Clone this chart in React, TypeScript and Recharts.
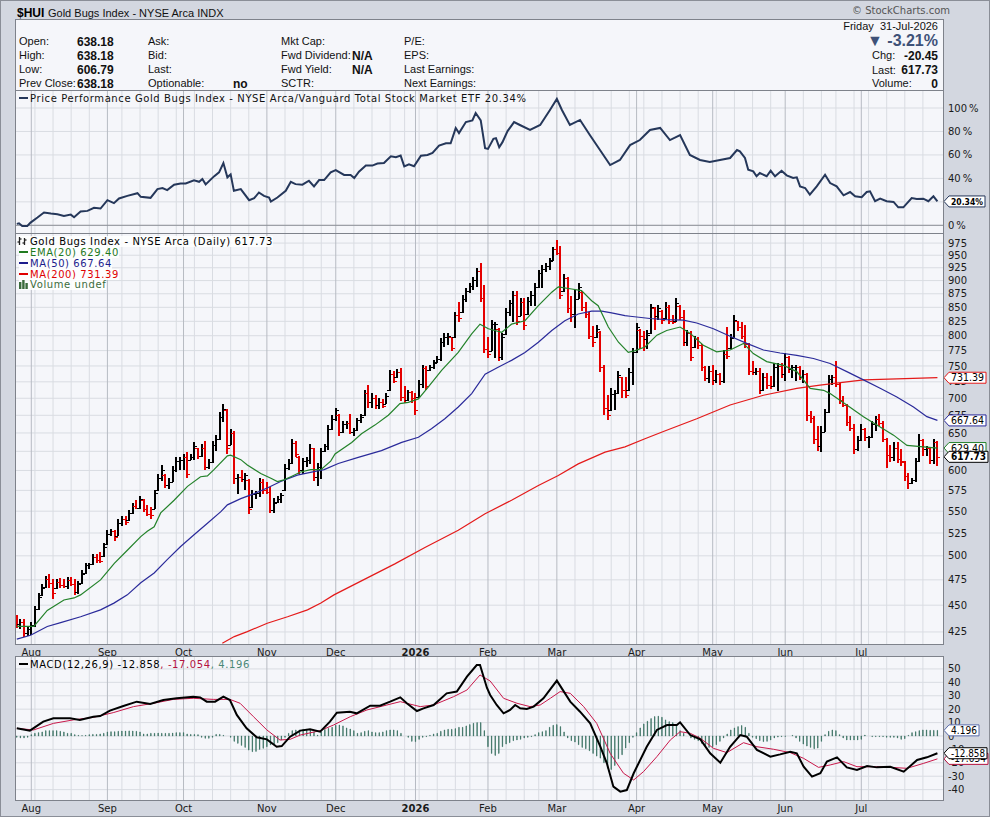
import React from "react";
import {
  Bar,
  CartesianGrid,
  ComposedChart,
  Line,
  ReferenceLine,
  XAxis,
  YAxis,
} from "recharts";

const FONT = "'DejaVu Sans', Verdana, sans-serif";
const HEAD_FONT = "'Liberation Sans', Arial, sans-serif";

// trading-day index 0 = 28 Jul 2025, 254 = 31 Jul 2026
const monthStarts = [4, 25, 46, 69, 88, 110, 130, 149, 171, 192, 212, 233];
const monthNames = ["Aug", "Sep", "Oct", "Nov", "Dec", "2026", "Feb", "Mar", "Apr", "May", "Jun", "Jul"];
const weekStarts = [
  5, 10, 15, 20, 29, 34, 39, 44, 49, 54, 59, 64, 74, 79, 84, 93, 98, 103, 107, 111, 116, 121, 125,
  135, 140, 144, 154, 159, 164, 169, 173, 178, 183, 188, 193, 198, 203, 208, 217, 222, 226, 231,
  235, 240, 245, 250,
];

const highs = [
  440, 436, 436, 430, 433, 448, 461, 470, 478, 480,
  475, 475, 476, 475, 477, 477, 475, 473, 484, 492,
  492, 501, 501, 503, 513, 527, 529, 527, 540, 543,
  544, 551, 559, 562, 567, 563, 556, 554, 575, 594,
  606, 594, 590, 605, 616, 617, 620, 623, 620, 636,
  629, 634, 638, 614, 638, 646, 678, 690, 683, 654,
  652, 594, 600, 596, 588, 575, 573, 590, 588, 584,
  578, 565, 567, 571, 607, 614, 641, 638, 618, 615,
  617, 634, 629, 609, 629, 634, 660, 674, 685, 675,
  665, 665, 675, 656, 670, 675, 712, 719, 707, 704,
  699, 697, 707, 743, 740, 744, 746, 717, 712, 709,
  707, 727, 751, 749, 751, 759, 764, 795, 803, 803,
  797, 841, 859, 872, 884, 893, 906, 923, 933, 890,
  797, 826, 823, 812, 803, 847, 862, 879, 878, 865,
  865, 868, 878, 893, 919, 928, 932, 942, 965, 980,
  967, 912, 906, 870, 881, 893, 878, 859, 841, 815,
  818, 806, 751, 704, 714, 712, 740, 732, 732, 745,
  778, 821, 810, 806, 809, 855, 849, 852, 843, 858,
  852, 834, 865, 852, 843, 809, 806, 799, 796, 784,
  749, 749, 751, 743, 738, 775, 813, 801, 834, 825,
  822, 817, 786, 757, 745, 745, 738, 738, 733, 754,
  754, 754, 770, 765, 751, 751, 749, 743, 738, 680,
  673, 659, 659, 683, 735, 735, 757, 722, 702, 690,
  673, 661, 645, 661, 656, 645, 666, 673, 675, 665,
  642, 633, 636, 636, 627, 611, 596, 590, 615, 648,
  640, 631, 629, 640, 638.18,
];

const lows = [
  429, 428, 421, 422, 423, 430, 446, 460, 468, 468,
  457, 467, 468, 468, 467, 470, 461, 462, 472, 482,
  487, 491, 493, 493, 500, 513, 522, 517, 522, 534,
  535, 540, 548, 553, 553, 550, 545, 542, 553, 575,
  588, 579, 578, 586, 599, 601, 601, 592, 614, 614,
  616, 618, 601, 603, 611, 627, 642, 666, 622, 634,
  584, 571, 586, 576, 548, 555, 565, 568, 571, 571,
  549, 549, 561, 561, 575, 601, 609, 618, 596, 596,
  606, 609, 588, 582, 590, 625, 628, 655, 668, 647,
  651, 656, 649, 647, 654, 665, 675, 687, 687, 685,
  685, 687, 692, 712, 725, 732, 697, 694, 697, 694,
  677, 702, 717, 714, 743, 746, 756, 759, 783, 786,
  775, 797, 826, 841, 862, 878, 884, 890, 862, 772,
  764, 775, 764, 759, 761, 803, 835, 826, 820, 835,
  812, 838, 853, 853, 887, 887, 919, 923, 940, 952,
  866, 880, 841, 826, 815, 866, 844, 832, 795, 783,
  797, 742, 677, 670, 682, 684, 707, 702, 702, 712,
  722, 773, 779, 776, 779, 804, 812, 828, 822, 831,
  822, 822, 826, 829, 784, 784, 759, 781, 779, 744,
  727, 725, 722, 725, 722, 725, 762, 779, 797, 810,
  795, 781, 737, 737, 737, 707, 712, 715, 715, 718,
  712, 732, 727, 740, 732, 727, 729, 724, 668, 665,
  636, 627, 625, 652, 680, 722, 718, 692, 688, 661,
  654, 622, 627, 640, 640, 631, 644, 654, 661, 638,
  604, 612, 613, 611, 607, 588, 578, 584, 586, 612,
  620, 620, 609, 610, 606.79,
];

const closes = [
  432, 434, 424, 428, 431, 446, 458, 467, 476, 472,
  462, 473, 470, 469, 475, 471, 463, 471, 481, 490,
  491, 499, 496, 495, 510, 524, 527, 520, 536, 541,
  537, 548, 556, 554, 564, 553, 547, 545, 572, 590,
  601, 582, 586, 601, 612, 614, 617, 595, 618, 632,
  619, 630, 605, 611, 634, 641, 672, 684, 630, 650,
  590, 592, 589, 594, 553, 570, 572, 585, 576, 573,
  551, 560, 564, 569, 603, 610, 636, 622, 600, 612,
  614, 630, 592, 604, 625, 632, 655, 670, 682, 652,
  662, 664, 652, 654, 668, 673, 708, 695, 700, 690,
  694, 689, 703, 738, 727, 740, 702, 697, 709, 700,
  682, 722, 746, 718, 748, 755, 762, 790, 798, 800,
  780, 836, 830, 866, 880, 890, 902, 918, 868, 778,
  770, 820, 821, 764, 798, 842, 858, 872, 826, 860,
  818, 862, 872, 888, 914, 922, 928, 938, 962, 955,
  872, 905, 848, 838, 866, 888, 850, 838, 800, 790,
  812, 748, 685, 675, 706, 708, 735, 712, 705, 740,
  772, 815, 800, 795, 802, 850, 835, 848, 828, 850,
  826, 824, 858, 832, 790, 805, 765, 794, 784, 748,
  731, 742, 728, 738, 726, 770, 766, 796, 828, 815,
  800, 788, 742, 740, 742, 712, 733, 720, 718, 748,
  750, 738, 765, 745, 748, 749, 733, 738, 675, 671,
  642, 632, 652, 680, 730, 733, 722, 698, 690, 665,
  657, 628, 640, 656, 644, 644, 663, 670, 664, 642,
  620, 618, 630, 615, 612, 593, 584, 588, 612, 640,
  628, 629, 614, 638.18, 617.73,
];

// [trading-day index, value]
const ema20: [number, number][] = [
  [0, 430], [4.7, 430], [8.4, 445], [13, 455], [15.8, 457], [17.6, 460], [23.1, 475], [26.9, 492],
  [30.5, 506], [34.2, 521], [36, 527], [37.9, 532], [39.7, 548], [43.4, 563], [47.1, 580], [50.7, 592],
  [52.6, 593], [54.4, 601], [58.1, 619], [59, 620], [61.8, 614], [63.6, 607], [67.3, 596], [70.1, 590],
  [71.9, 586], [73.7, 588], [75.6, 592], [78.3, 598], [81.1, 601], [83.9, 601], [86.6, 612], [87.8, 621.6],
  [92.4, 637], [95.1, 649], [98.8, 661], [102.5, 675], [105.7, 692], [108, 694], [110.8, 699], [113.5, 717],
  [117.2, 743], [121.8, 772], [125.5, 803], [127.8, 820], [130.1, 812], [133.8, 806], [136.5, 820],
  [140.2, 826], [143.9, 853], [147.6, 878], [149.4, 888], [153.1, 884], [155.8, 881], [158.6, 862],
  [160.4, 853], [163.2, 815], [166, 789], [168.7, 772], [170.6, 775], [173.3, 781], [176.6, 801],
  [179.3, 809], [183, 815], [185.8, 804], [189.4, 784], [193.1, 773], [196.8, 776], [200.5, 787],
  [203.2, 770], [206.9, 757], [211.5, 751], [215.2, 741], [218.9, 715], [222.6, 712], [224.4, 707],
  [229, 690], [233.6, 673], [237.3, 661], [241.9, 647], [245.6, 633], [250.2, 631], [254, 629.4],
];

const ma50: [number, number][] = [
  [0, 418.5], [3.8, 422], [8.4, 430], [12.1, 433.5], [17.6, 439], [23.1, 445.5], [26.8, 452], [30.5, 460],
  [34.2, 472], [37.9, 482], [41.5, 496], [45.2, 510], [48.9, 523], [52.6, 536], [56.3, 549.5], [58.1, 557.5],
  [61.8, 565], [65.5, 571], [69.1, 578], [72.8, 586], [77.4, 594], [82, 598.5], [84.8, 601], [88.7, 609],
  [94.2, 617], [100.6, 626], [106.2, 637], [110.8, 644], [114.4, 656], [118.1, 670], [121.8, 687],
  [125.5, 707], [129.2, 737], [132.8, 748], [136.5, 759], [140.2, 772], [143.9, 789], [147.6, 809],
  [151.2, 826], [154.9, 838], [158.6, 843], [161.4, 843], [164.1, 840], [167.8, 835], [169.2, 834],
  [174.7, 830], [179.3, 828], [183.9, 827], [187.6, 822], [192.2, 812], [196.8, 799], [201.4, 787],
  [206, 776], [210.6, 771], [215.2, 767], [219.8, 762], [224.4, 754], [229, 741], [233.6, 728],
  [238.2, 715], [242.8, 702], [247.4, 687], [251.1, 673], [254, 667.64],
];

const ma200: [number, number][] = [
  [56.7, 414.8], [60, 420.8], [63.6, 425.3], [69.1, 433], [74.7, 439], [80.2, 445.5], [83.9, 452],
  [87.5, 460], [104.3, 491.5], [112.6, 509], [121.8, 528], [129.2, 547], [136.5, 563], [143.9, 581],
  [149.4, 593.5], [154.9, 608.5], [162.3, 624], [167.8, 631], [173.3, 642], [178.4, 652], [187.6, 670],
  [196.8, 690], [206, 704.5], [215.2, 715], [221.6, 720], [229, 725], [233.6, 728], [242.8, 729.5],
  [254, 731.39],
];

const perf: [number, number][] = [
  [0, 1.2], [0.6, 1.7], [1.5, -0.6], [2.9, -0.6], [3.8, 2.3], [5.7, 6.6], [7.5, 10.9], [9.4, 10],
  [11.2, 9.4], [13, 8], [14.9, 9.1], [15.8, 6.9], [17.6, 11.7], [19.5, 12.3], [21.3, 14.9], [23.1, 14.3],
  [25, 21.4], [26.8, 18.9], [28.2, 22.9], [30.5, 25.1], [33.3, 27.4], [34.2, 24.3], [36.9, 23.4],
  [38.8, 30.9], [40.2, 31.7], [41.5, 30], [43.4, 34.6], [45.2, 35.7], [46.6, 35.7], [48.9, 38.3],
  [50.3, 37.1], [51.2, 39.4], [52.1, 34.9], [54.4, 41.7], [55.8, 45.1], [57, 53.1], [58.1, 40.9],
  [59, 43.4], [59.9, 29.4], [61.8, 30.9], [64.1, 21.4], [65.5, 23.1], [66.8, 28], [68.2, 25.1],
  [69.6, 23.7], [70.1, 20.3], [71.9, 23.7], [74.2, 29.4], [75.6, 37.1], [76.9, 35.1], [78.8, 34.6],
  [80.6, 38], [82, 33.1], [83.4, 38.6], [84.8, 38.6], [86.6, 45.1], [88, 47.1], [90.3, 42.9],
  [92.1, 42.9], [93.1, 40.3], [94.4, 45.7], [96.3, 50.9], [98.1, 50.9], [99.5, 52.6], [101.3, 53.1],
  [103.2, 58.9], [104.6, 58], [105.9, 59.4], [106.9, 50.3], [108.2, 52], [109.6, 50.3], [111.5, 59.4],
  [113.3, 60], [114.7, 61.7], [116.5, 68], [118.4, 70], [119.7, 70], [121.1, 82.9], [122, 78.6],
  [123.9, 88], [125.7, 89.4], [126.6, 95.7], [128, 89.4], [129.2, 65.7], [130, 65.1], [131.5, 73.7],
  [132.2, 74.3], [133.1, 66.6], [134, 70.9], [135.4, 80.3], [137.2, 88], [138.8, 85.5], [141.6, 81.3],
  [144.4, 85.5], [147.1, 98.3], [149, 107.7], [150.4, 98.3], [152.6, 85.5], [155.4, 89.8], [158.1, 77],
  [160.9, 64.2], [163.7, 51.4], [166.4, 55.7], [169.2, 68.4], [171.9, 72.7], [174.7, 81.3], [177.5, 83],
  [180.2, 72.7], [183, 77], [185.7, 60], [188.5, 55.7], [191.2, 54], [194, 55.7], [196.8, 57.4],
  [198.7, 64.2], [199.5, 63.1], [200.9, 57.4], [201.8, 47.4], [203.2, 46], [204.1, 41.8], [205, 44.6],
  [206.9, 41.8], [208, 46.5], [209.2, 41.8], [211, 46.5], [212.4, 42.6], [214.2, 40.3], [215.2, 40.9],
  [216.1, 33.2], [217.5, 31.8], [218.8, 26.1], [220.7, 33.2], [223, 43.1], [224.4, 36], [226.2, 33.2],
  [228.1, 25.6], [229.9, 28.4], [231.3, 24.7], [233.1, 23.9], [234.5, 28.4], [235.4, 29], [236.8, 20.5],
  [238.2, 22.7], [240, 20.5], [241.9, 19.9], [243.2, 15.3], [244.6, 15.3], [246.9, 23.3], [248.3, 22.4],
  [250.1, 22.7], [251.5, 20.5], [252.9, 24.7], [254, 20.34],
];

const macd: [number, number][] = [
  [0, 5.7], [3.6, 4], [7.3, 10.7], [10.1, 13.2], [14.7, 13.2], [17.4, 12], [21.1, 14.4], [23, 14.9],
  [25.7, 18.9], [29.4, 22.4], [33.1, 25.6], [36.8, 23.9], [40.4, 26.8], [44.1, 28.1], [48.7, 29.3],
  [50.6, 28.8], [52.4, 25.6], [54.7, 25.6], [57, 29.3], [58.8, 26.8], [60.7, 15.7], [63.4, 5.7],
  [66.2, -1], [69, -2.5], [71.7, -8], [73.1, -7.5], [75.4, -0.5], [78.2, 4], [80.9, 5], [83.7, 3.2],
  [86.4, 10.7], [88.3, 17.4], [91.9, 18.1], [93.8, 16.9], [97.5, 22.6], [100.2, 22.6], [103, 25.6],
  [105.8, 28.8], [107.6, 24.4], [110.4, 18.6], [112.2, 20.6], [115, 23.1], [118.6, 31.8], [121.4, 33.1],
  [124.2, 44.2], [126.9, 52.9], [127.8, 52.9], [129.7, 36], [130.6, 30.6], [132.4, 23.1], [134.3, 16.9],
  [136.1, 19.4], [137.5, 23.1], [138.9, 20.6], [140.7, 20.1], [142.6, 21.9], [145.3, 28.1], [149, 41.3],
  [152.7, 25.6], [155.4, 18.1], [158.2, 9.4], [161, -8], [162.8, -20.4], [164.6, -37.8], [166.5, -41.5],
  [168.3, -40.3], [170.2, -27.8], [173.8, -8], [176.6, 4.5], [179.4, 8.2], [182.1, 8.2], [183, 10.2],
  [185.8, 0.7], [188.6, -2.5], [191.3, -12.9], [194.1, -19.9], [196.8, -8], [199.6, 0.7], [201.4, -0.5],
  [204.2, -10.4], [207.9, -15.4], [210.6, -13.7], [213.4, -11.7], [215.2, -12.9], [217.1, -22.9],
  [219.4, -30.3], [221.7, -27.8], [223.5, -19.1], [226.3, -15.9], [229, -23.4], [231.8, -25.4],
  [234.6, -22.4], [237.3, -23.4], [241, -22.9], [244.7, -26.6], [248.4, -17.9], [251.1, -15.9],
  [254, -12.858],
];

const signal: [number, number][] = [
  [0, 5.7], [4.6, 4.5], [10.1, 9.4], [15.6, 12], [21.1, 13.9], [26.6, 17.4], [32.2, 21.9], [37.7, 24.4],
  [43.2, 27.3], [48.7, 28.1], [54.2, 27.3], [58.8, 27.3], [61.6, 24.4], [65.3, 14.4], [69, 4.5],
  [72.6, -3], [75.4, -2.5], [78.2, 0.7], [83.7, 4], [87.4, 8.2], [92, 14.4], [96.6, 19.4], [102.1, 23.1],
  [105.8, 25.6], [111.3, 21.9], [115, 23.1], [120.5, 29.3], [124.2, 34.3], [127.8, 45.5], [130.6, 41],
  [134.3, 28.1], [138, 24.4], [141.6, 21.9], [144.4, 23.1], [147.2, 28.1], [149.9, 33.1], [152.7, 31.8],
  [156.4, 21.9], [160, 9.4], [163.7, -12.9], [167.4, -27.8], [170.2, -32.8], [172.9, -26.6],
  [176.6, -15.4], [180.3, -3], [183, 3.2], [185.8, 2], [188.6, -1.7], [192.2, -9.2], [195.9, -12.4],
  [200.5, -5], [204.2, -8], [208.8, -9.9], [213.4, -12.4], [217.1, -16.7], [221.2, -23.4],
  [224.4, -21.6], [228.1, -19.1], [231.8, -22.9], [237.3, -22.9], [241, -23.4], [245.6, -24.1],
  [250.2, -20.4], [254, -17.054],
];

const histogram = [
  -1, -1.5, -1.5, -1, 1, 2, 2.5, 3, 4, 4,
  4, 4, 3.5, 3, 2, 2, 1, 0.5, 0.3, 0.5,
  1, 1.2, 1.2, 1.5, 2, 3, 3.2, 3.2, 3.5, 3.7,
  3.7, 3.8, 3.7, 3.5, 3, 1.5, 1.5, 2, 2, 2.2,
  2, 2, 2, 2.2, 2.5, 2.5, 2.5, 1.5, 1.2, 1.2,
  1, -1, -1.7, -1.7, -1, 1.2, 1.2, 0.5, 0, -1,
  -4, -5.5, -7, -8.5, -10.5, -11.7, -11.5, -10, -9.2, -8,
  -6.7, -6, -5, -3, -1, 2, 4, 4.5, 4.5, 5,
  5, 4.5, 3, 0.7, 3, 5, 5.7, 6.5, 8, 8.2,
  7.5, 6, 5.2, 4, 2, 2.5, 3.5, 4, 3, 2.5,
  2.5, 3, 4, 4.5, 4.5, 4, 2, 0, -1, -4,
  -4.2, -2.5, -1, -0.5, 0.5, 1.5, 2, 3.5, 4.5, 5,
  5, 5.5, 6.5, 6.5, 7.5, 8.5, 9.5, 10, 10, 4,
  -8, -13, -14.5, -13, -8, -6, -5, -3.5, -3, -2.5,
  -1.5, -1, -0.5, 1, 2.5, 3.2, 4, 6.5, 8, 8.5,
  7, 3, -1.5, -3.5, -4.5, -6.5, -8.5, -9.5, -11, -13,
  -15, -16.5, -20, -24, -25, -22, -17, -14, -9, -5,
  -1, 2.5, 6, 9, 11, 13, 14.5, 14.8, 14, 12,
  10.7, 10, 8, 4, 2, 0, -1.5, -2.5, -3.5, -5.5,
  -7.5, -8.5, -8, -6.5, -4, -1.5, 1.5, 4.5, 6, 7,
  7.8, 6.5, 2, -1, -2, -3.5, -4.2, -4, -3, -1.5,
  -0.8, -0.5, -0.3, 0, 0.5, -1.5, -4, -6, -7.5, -8.5,
  -9.5, -9, -4, 1, 3.5, 4.5, 4, 1, -1.5, -3,
  -3, -3, -3, -2.5, 0.7, 0, -0.5, -0.5, -0.5, -0.5,
  -1, -1, -1, -1.5, -2.5, -2, 0.5, 2.5, 3.2, 4,
  4.5, 4.5, 4.2, 4.2, 4.196,
];

const priceTicks = [425, 450, 475, 500, 525, 550, 575, 600, 625, 650, 675, 700, 725, 750, 775, 800, 825, 850, 875, 900, 925, 950, 975];
const perfTicks = [0, 20, 40, 60, 80, 100];
const macdTicks = [-40, -30, -20, -10, 0, 10, 20, 30, 40, 50];

// last-value tags on the right axis (drawn after the labels, so they cover them)
type TagSpec = { value: number; text: string; color: string; w: number; bold?: boolean; size?: number };
const perfTags: TagSpec[] = [{ value: 20.34, text: "20.34%", color: "#25375a", w: 36, bold: true, size: 9 }];
const priceTags: TagSpec[] = [
  { value: 731.39, text: "731.39", color: "#e41a1a", w: 37 },
  { value: 667.64, text: "667.64", color: "#2a2a9a", w: 37 },
  { value: 629.4, text: "629.40", color: "#23822a", w: 37 },
  { value: 617.73, text: "617.73", color: "#000000", w: 39, bold: true },
];
const macdTags: TagSpec[] = [
  { value: 4.196, text: "4.196", color: "#5a6cab", w: 30 },
  { value: -17.054, text: "-17.054", color: "#b4123e", w: 39 },
  { value: -12.858, text: "-12.858", color: "#000000", w: 38 },
];

const X_DOMAIN: [number, number] = [-0.221, 255.54];
const PERF_DOMAIN: [number, number] = [-6.56, 114.5];
const PRICE_DOMAIN: [number, number] = [414.2, 994.1];
const MACD_DOMAIN: [number, number] = [-47.73, 58.9];
const BG = "#d3d7e0";
const PANEL = "#f5f6fa";
const GRID = "#d9dce2";
const MONTH_GRID = "#b7bbc3";
const FRAME = "#7e828b";

const priceRows = closes.map((c, i) => {
  const prev = i > 0 ? closes[i - 1] : c;
  return {
    i,
    hl: [lows[i], highs[i]],
    h: highs[i],
    l: lows[i],
    c,
    o: Math.min(highs[i], Math.max(lows[i], prev)),
    up: i > 0 && c >= prev,
  };
});
const toRows = (pts: [number, number][]) => pts.map(([i, v]) => ({ i, v }));
const histRows = histogram.map((v, i) => ({ i, v }));

const toPx = (offset: any, idx: number) =>
  offset.left + ((idx - X_DOMAIN[0]) / (X_DOMAIN[1] - X_DOMAIN[0])) * offset.width;

const linY = (domain: [number, number]) => (offset: any, v: number) =>
  offset.top + ((domain[1] - v) / (domain[1] - domain[0])) * offset.height;
const logY = (domain: [number, number]) => (offset: any, v: number) =>
  offset.top +
  ((Math.log(domain[1]) - Math.log(v)) / (Math.log(domain[1]) - Math.log(domain[0]))) * offset.height;

const gridLayers = (key: string, ticks: number[], yOf: (offset: any, v: number) => number) => [
  <CartesianGrid
    key={key + "h"}
    vertical={false}
    stroke={GRID}
    fill={PANEL}
    fillOpacity={1}
    horizontalCoordinatesGenerator={({ offset }: any) => ticks.map((t) => yOf(offset, t))}
  />,
  <CartesianGrid
    key={key + "w"}
    horizontal={false}
    stroke={GRID}
    verticalCoordinatesGenerator={({ offset }: any) => weekStarts.map((w) => toPx(offset, w))}
  />,
  <CartesianGrid
    key={key + "m"}
    horizontal={false}
    stroke={MONTH_GRID}
    verticalCoordinatesGenerator={({ offset }: any) => monthStarts.map((m) => toPx(offset, m))}
  />,
];

function TagShape({ tip, y, tag }: { tip: number; y: number; tag: TagSpec }) {
  const d = `M${tip},${y}L${tip + 5},${y - 5.5}H${tip + 5 + tag.w}V${y + 5.5}H${tip + 5}Z`;
  return (
    <g>
      <path d={d} fill="#ffffff" stroke={tag.color} strokeWidth={1} />
      <text
        x={tip + 7}
        y={y + 3.6}
        fontSize={tag.size ?? 10}
        fontFamily={FONT}
        fontWeight={tag.bold ? 700 : 400}
        fill="#000"
        textLength={tag.w - 4}
        lengthAdjust="spacingAndGlyphs"
      >
        {tag.text}
      </text>
    </g>
  );
}

// right-axis tick: plain label, or a value tag when the tick is one of the tags
const makeAxisTick = (tags: TagSpec[], fmt: (v: number) => string) => (props: any) => {
  const { x, y, payload } = props;
  const tag = tags.find((t) => t.value === payload?.value);
  if (tag) return <TagShape tip={x - 4} y={y} tag={tag} />;
  return (
    <text x={x} y={y} dy="0.355em" fontSize={10} fontFamily={FONT} fill="#1a1a1a" textAnchor="start">
      {fmt(payload?.value)}
    </text>
  );
};

const OhlcBar = (props: any) => {
  const { x, y, width, height } = props;
  const p = props.payload ?? props;
  if (x == null || y == null || p == null || p.h == null) return null;
  const top = Math.min(y, y + height);
  const bottom = Math.max(y, y + height);
  const span = Math.log(p.h) - Math.log(p.l);
  const at = (v: number) =>
    Math.round(span > 0 ? top + ((Math.log(p.h) - Math.log(v)) / span) * (bottom - top) : top) + 0.5;
  const cx = Math.round(x + width / 2);
  const color = p.up ? "#000000" : "#e50000";
  return (
    <g stroke={color} shapeRendering="crispEdges">
      <line x1={cx} x2={cx} y1={top - 0.8} y2={bottom + 0.8} strokeWidth={2} />
      <line x1={cx - 3} x2={cx} y1={at(p.o)} y2={at(p.o)} strokeWidth={1.2} />
      <line x1={cx} x2={cx + 3} y1={at(p.c)} y2={at(p.c)} strokeWidth={1.2} />
    </g>
  );
};

const MonthTick = (props: any) => {
  const { x, y, payload } = props;
  const k = monthStarts.indexOf(payload?.value);
  const name = k >= 0 ? monthNames[k] : "";
  return (
    <text
      x={x}
      y={y + 11.5}
      textAnchor="middle"
      fontSize={10}
      fontFamily={FONT}
      fontWeight={name === "2026" ? 700 : 400}
      fill="#1a1a1a"
    >
      {name}
    </text>
  );
};

function PerfPanel() {
  return (
    <ComposedChart width={990} height={142} data={toRows(perf)} margin={{ top: 0, right: 0, bottom: 0, left: 16 }}>
      {gridLayers("p", perfTicks, linY(PERF_DOMAIN))}
      <XAxis dataKey="i" type="number" domain={X_DOMAIN} allowDataOverflow hide />
      <YAxis
        orientation="right"
        width={47}
        domain={PERF_DOMAIN}
        allowDataOverflow
        ticks={[...perfTicks, ...perfTags.map((t) => t.value)]}
        interval={0}
        tick={makeAxisTick(perfTags, (v) => `${v}\u2009%`)}
        tickSize={0}
        tickMargin={5}
        axisLine={false}
      />
      <ReferenceLine y={0} stroke="#8c9098" strokeWidth={1} />
      <Line
        dataKey="v"
        type="linear"
        stroke="#25375a"
        strokeWidth={2}
        dot={false}
        isAnimationActive={false}
      />
    </ComposedChart>
  );
}

function PricePanel() {
  return (
    <ComposedChart width={990} height={424} data={priceRows} margin={{ top: 0, right: 0, bottom: 0, left: 16 }}>
      {gridLayers("m", priceTicks, logY(PRICE_DOMAIN))}
      <XAxis
        dataKey="i"
        type="number"
        domain={X_DOMAIN}
        allowDataOverflow
        ticks={monthStarts}
        interval={0}
        tick={<MonthTick />}
        tickSize={0}
        tickMargin={0}
        axisLine={false}
        height={14}
      />
      <YAxis
        orientation="right"
        width={47}
        scale="log"
        domain={PRICE_DOMAIN}
        allowDataOverflow
        ticks={[...priceTicks, ...priceTags.map((t) => t.value)]}
        interval={0}
        tick={makeAxisTick(priceTags, (v) => `${v}`)}
        tickSize={0}
        tickMargin={5}
        axisLine={false}
      />
      <Line data={toRows(ma200)} dataKey="v" type="linear" stroke="#e41a1a" strokeWidth={1.2} dot={false} isAnimationActive={false} />
      <Line data={toRows(ma50)} dataKey="v" type="linear" stroke="#2a2a9a" strokeWidth={1.2} dot={false} isAnimationActive={false} />
      <Line data={toRows(ema20)} dataKey="v" type="linear" stroke="#23822a" strokeWidth={1.2} dot={false} isAnimationActive={false} />
      <Bar dataKey="hl" barSize={3} shape={<OhlcBar />} isAnimationActive={false} />
    </ComposedChart>
  );
}

function MacdPanel() {
  return (
    <ComposedChart width={990} height={159} data={histRows} margin={{ top: 0, right: 0, bottom: 0, left: 16 }}>
      {gridLayers("d", macdTicks, linY(MACD_DOMAIN))}
      <XAxis
        dataKey="i"
        type="number"
        domain={X_DOMAIN}
        allowDataOverflow
        ticks={monthStarts}
        interval={0}
        tick={<MonthTick />}
        tickSize={0}
        tickMargin={0}
        axisLine={false}
        height={16}
      />
      <YAxis
        orientation="right"
        width={47}
        domain={MACD_DOMAIN}
        allowDataOverflow
        ticks={[...macdTicks, ...macdTags.map((t) => t.value)]}
        interval={0}
        tick={makeAxisTick(macdTags, (v) => `${v}`)}
        tickSize={0}
        tickMargin={5}
        axisLine={false}
      />
      <Bar dataKey="v" barSize={3.6} fill="#679f90" stroke="#2f6959" strokeWidth={0.7} isAnimationActive={false} />
      <Line data={toRows(signal)} dataKey="v" type="linear" stroke="#c8184a" strokeWidth={1} dot={false} isAnimationActive={false} />
      <Line data={toRows(macd)} dataKey="v" type="linear" stroke="#000000" strokeWidth={2} dot={false} isAnimationActive={false} />
    </ComposedChart>
  );
}

const abs = (left: number, top: number, extra: React.CSSProperties = {}): React.CSSProperties => ({
  position: "absolute",
  left,
  top,
  ...extra,
});

const legendText: React.CSSProperties = {
  fontFamily: FONT,
  fontSize: 10,
  letterSpacing: "0.6px",
  lineHeight: "11px",
  whiteSpace: "nowrap",
};

function Dash({ color }: { color: string }) {
  return (
    <span
      style={{
        display: "inline-block",
        width: 9,
        height: 2,
        background: color,
        verticalAlign: "middle",
        marginRight: 2,
        marginTop: -2,
      }}
    />
  );
}

function InfoBox() {
  const lab: React.CSSProperties = { fontFamily: HEAD_FONT, fontSize: 11, color: "#111", whiteSpace: "nowrap" };
  const val: React.CSSProperties = { ...lab, fontWeight: 700, fontSize: 12 };
  const rows = [41.5, 55.5, 69.5, 83.5];
  const cell = (x: number, r: number, text: string, style: React.CSSProperties) => (
    <div style={{ ...abs(x, rows[r] - 7), ...style }}>{text}</div>
  );
  return (
    <>
      <div style={abs(15, 19, { width: 929, height: 72, background: PANEL, border: `1px solid ${FRAME}`, boxSizing: "border-box" })} />
      {cell(19, 0, "Open:", lab)}
      {cell(19, 1, "High:", lab)}
      {cell(19, 2, "Low:", lab)}
      {cell(19, 3, "Prev Close:", lab)}
      {cell(77, 0, "638.18", val)}
      {cell(77, 1, "638.18", val)}
      {cell(77, 2, "606.79", val)}
      {cell(77, 3, "638.18", val)}
      {cell(148, 0, "Ask:", lab)}
      {cell(148, 1, "Bid:", lab)}
      {cell(148, 2, "Last:", lab)}
      {cell(148, 3, "Optionable:", lab)}
      {cell(233, 3, "no", val)}
      {cell(281, 0, "Mkt Cap:", lab)}
      {cell(281, 1, "Fwd Dividend:", lab)}
      {cell(281, 2, "Fwd Yield:", lab)}
      {cell(281, 3, "SCTR:", lab)}
      {cell(352, 1, "N/A", val)}
      {cell(352, 2, "N/A", val)}
      {cell(404, 0, "P/E:", lab)}
      {cell(404, 1, "EPS:", lab)}
      {cell(404, 2, "Last Earnings:", lab)}
      {cell(404, 3, "Next Earnings:", lab)}
      <div style={{ ...abs(700, 19.5), width: 238, textAlign: "right", ...lab }}>Friday&nbsp;&nbsp;31-Jul-2026</div>
      <div
        style={{
          ...abs(700, 32),
          width: 238,
          textAlign: "right",
          fontFamily: HEAD_FONT,
          fontSize: 16,
          fontWeight: 700,
          color: "#3e5178",
          whiteSpace: "nowrap",
        }}
      >
        ▼ -3.21%
      </div>
      <div style={{ ...abs(872, 49), ...lab }}>Chg:</div>
      <div style={{ ...abs(700, 48.5), width: 238, textAlign: "right", ...val }}>-20.45</div>
      <div style={{ ...abs(872, 63.5), ...lab }}>Last:</div>
      <div style={{ ...abs(700, 63), width: 238, textAlign: "right", ...val }}>617.73</div>
      <div style={{ ...abs(872, 77), ...lab }}>Volume:</div>
      <div style={{ ...abs(700, 76.5), width: 238, textAlign: "right", ...val }}>0</div>
    </>
  );
}

function OhlcIcon() {
  return (
    <svg width={11} height={10} style={{ verticalAlign: "middle", marginRight: 2, marginTop: -2 }}>
      <g stroke="#222" strokeWidth={1.3}>
        <line x1={2.5} x2={2.5} y1={1} y2={9} />
        <line x1={0.5} x2={2.5} y1={6} y2={6} />
        <line x1={2.5} x2={4.5} y1={3} y2={3} />
        <line x1={7.5} x2={7.5} y1={2} y2={9} />
        <line x1={5.5} x2={7.5} y1={7} y2={7} />
        <line x1={7.5} x2={9.5} y1={4} y2={4} />
      </g>
    </svg>
  );
}

function VolIcon() {
  return (
    <svg width={10} height={10} style={{ verticalAlign: "middle", marginRight: 1, marginTop: -2 }}>
      <g fill="#3b6b3b">
        <rect x={0} y={3} width={2.4} height={7} />
        <rect x={3.2} y={1} width={2.4} height={9} />
        <rect x={6.4} y={4} width={2.4} height={6} />
      </g>
    </svg>
  );
}

export default function App() {
  const frame = (top: number, height: number) => (
    <div
      style={abs(15, top, {
        width: 929,
        height,
        border: `1px solid ${FRAME}`,
        boxSizing: "border-box",
        pointerEvents: "none",
      })}
    />
  );
  const legendBg = "rgba(255,255,255,0.82)";
  return (
    <div style={{ position: "relative", width: 990, height: 817, background: BG, overflow: "hidden" }}>
      <style>{"body{margin:0;}"}</style>
      <div style={abs(17, 5.5, { fontFamily: HEAD_FONT, fontSize: 12, fontWeight: 700, color: "#000" })}>$HUI</div>
      <div style={abs(48, 6.5, { fontFamily: HEAD_FONT, fontSize: 11, color: "#111", whiteSpace: "nowrap" })}>
        Gold Bugs Index - NYSE Arca INDX
      </div>
      <div style={abs(852, 5, { fontFamily: FONT, fontSize: 10, color: "#555", whiteSpace: "nowrap" })}>
        © StockCharts.com
      </div>
      <InfoBox />

      <div style={abs(0, 91)}>
        <PerfPanel />
      </div>
      <div style={abs(0, 234)}>
        <PricePanel />
      </div>
      <div style={abs(0, 657)}>
        <MacdPanel />
      </div>

      {frame(90, 144)}
      {frame(233, 412)}
      {frame(656, 145)}

      <div style={abs(19, 92.5, { ...legendText, color: "#111" })}>
        <Dash color="#25375a" />
        Price Performance Gold Bugs Index - NYSE Arca/Vanguard Total Stock Market ETF 20.34%
      </div>

      <div style={abs(17, 235.5, { ...legendText, color: "#000", background: legendBg })}>
        <OhlcIcon />
        Gold Bugs Index - NYSE Arca (Daily) 617.73
      </div>
      <div style={abs(19, 246.5, { ...legendText, color: "#1f7a1f", background: legendBg })}>
        <Dash color="#1f7a1f" />
        EMA(20) 629.40
      </div>
      <div style={abs(19, 257.5, { ...legendText, color: "#1c1c8c", background: legendBg })}>
        <Dash color="#1c1c8c" />
        MA(50) 667.64
      </div>
      <div style={abs(19, 268.5, { ...legendText, color: "#e00000", background: legendBg })}>
        <Dash color="#e00000" />
        MA(200) 731.39
      </div>
      <div style={abs(19, 279, { ...legendText, color: "#3b6b3b", background: legendBg })}>
        <VolIcon />
        Volume undef
      </div>

      <div style={abs(19, 658.5, { ...legendText, color: "#000" })}>
        <Dash color="#000" />
        MACD(12,26,9) -12.858<span style={{ color: "#b4123e" }}>, -17.054</span>
        <span style={{ color: "#4a8777" }}>, 4.196</span>
      </div>

      <div
        style={abs(0, 0, {
          width: 990,
          height: 817,
          border: "1px solid #8a8e97",
          boxSizing: "border-box",
          pointerEvents: "none",
        })}
      />
    </div>
  );
}
